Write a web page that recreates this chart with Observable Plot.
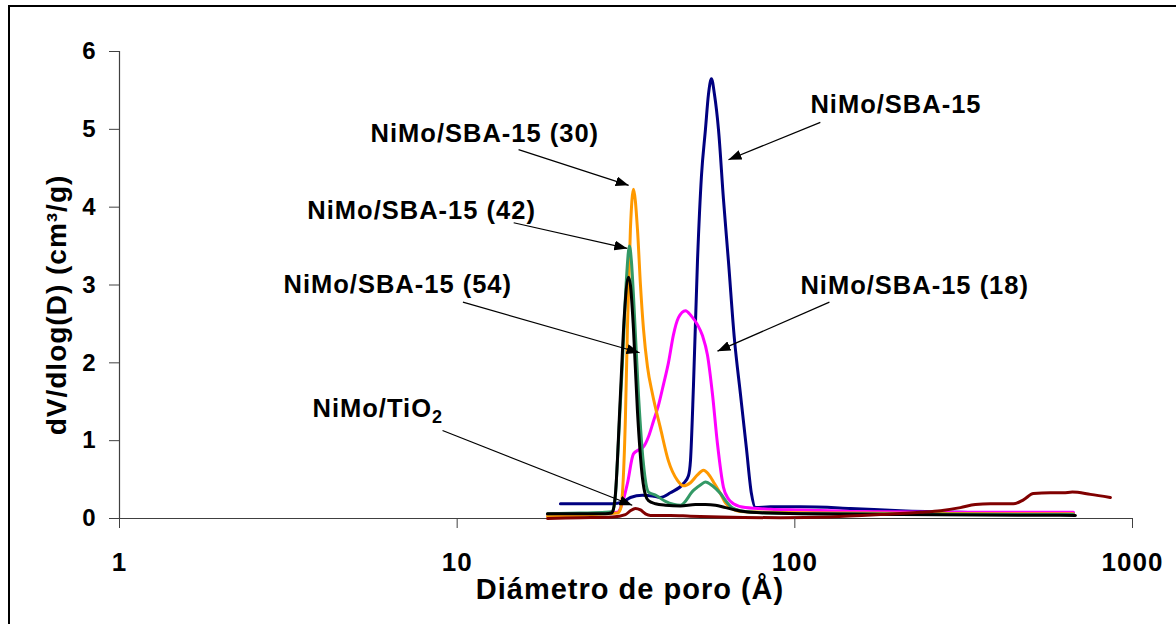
<!DOCTYPE html>
<html><head><meta charset="utf-8">
<script src="https://cdn.jsdelivr.net/npm/d3@7"></script>
<script src="https://cdn.jsdelivr.net/npm/@observablehq/plot@0.6"></script>
<style>
html,body{margin:0;padding:0;background:#fff;overflow:hidden;width:1176px;height:624px}
#wrap{position:relative;width:1176px;height:624px;overflow:hidden}
#chart{position:absolute;left:0;top:0}
#border{position:absolute;left:8px;top:5px;width:1300px;height:1000px;border:2px solid #000;box-sizing:border-box;pointer-events:none}
svg text{letter-spacing:1px}
</style></head><body><div id="wrap"><div id="chart"></div><div id="border"></div></div>
<script>
// ---- axis ticks ----
const xTicks = [1, 10, 100, 1000];
const yTicks = [0, 1, 2, 3, 4, 5, 6];
const xTitle = "Diámetro de poro (Å)";
const yTitle = "dV/dlog(D) (cm³/g)";

// ---- series: NiMo/SBA-15 (navy) ----
const sbaD = [20.22, 24.82, 28.83, 30.86, 32.59, 35.38, 37.88, 40.00, 42.81, 46.79, 48.41, 49.08, 50.09, 51.48, 52.90, 54.36, 55.49, 56.63, 57.80, 59.41, 61.47, 63.60, 66.25, 69.01, 71.89, 74.38, 76.44, 84.70, 103.9, 146.1, 205.5, 309.3, 444.0, 668.3];
const sbaV = [0.19, 0.19, 0.19, 0.21, 0.27, 0.30, 0.29, 0.27, 0.33, 0.45, 0.55, 0.74, 1.7, 3.3, 4.4, 5.0, 5.45, 5.65, 5.45, 5.0, 4.1, 3.3, 2.3, 1.6, 0.9, 0.32, 0.14, 0.15, 0.15, 0.13, 0.10, 0.08, 0.07, 0.07];

// ---- NiMo/SBA-15 (18) (magenta) ----
const s18D = [18.51, 23.18, 27.49, 29.83, 30.86, 31.93, 33.27, 34.42, 35.62, 36.86, 38.13, 39.44, 40.82, 42.23, 43.70, 45.22, 47.43, 49.41, 51.48, 53.26, 55.11, 57.02, 59.00, 61.47, 63.60, 65.80, 71.40, 84.70, 103.9, 146.1, 288.9, 668.3];
const s18V = [0.05, 0.06, 0.07, 0.08, 0.2, 0.45, 0.83, 0.88, 0.92, 1.05, 1.25, 1.45, 1.72, 2.0, 2.36, 2.58, 2.67, 2.6, 2.49, 2.35, 2.1, 1.6, 0.96, 0.4, 0.25, 0.19, 0.14, 0.12, 0.11, 0.09, 0.08, 0.08];

// ---- NiMo/SBA-15 (30) (orange) ----
const s30D = [18.51, 23.18, 27.49, 29.83, 30.45, 30.86, 31.50, 31.93, 32.59, 33.27, 34.19, 34.90, 35.62, 36.61, 37.88, 40.00, 42.23, 44.91, 46.79, 49.08, 51.48, 53.63, 55.49, 57.80, 60.22, 62.31, 64.47, 69.01, 84.70, 146.1, 406.3, 668.3];
const s30V = [0.03, 0.04, 0.06, 0.07, 0.12, 0.32, 1.3, 2.44, 3.72, 4.23, 3.72, 3.0, 2.44, 1.95, 1.6, 1.16, 0.74, 0.49, 0.42, 0.46, 0.56, 0.62, 0.57, 0.45, 0.32, 0.2, 0.14, 0.09, 0.08, 0.07, 0.06, 0.06];

// ---- NiMo/SBA-15 (42) (green) ----
const s42D = [18.51, 23.18, 27.49, 28.83, 29.43, 29.83, 30.86, 31.71, 32.37, 32.82, 33.27, 34.42, 35.62, 36.86, 38.66, 41.39, 45.84, 50.09, 52.90, 54.36, 57.02, 60.22, 63.16, 65.80, 71.40, 84.70, 146.1, 668.3];
const s42V = [0.06, 0.07, 0.08, 0.09, 0.3, 0.74, 2.0, 3.07, 3.5, 3.3, 2.87, 1.6, 0.7, 0.34, 0.3, 0.22, 0.17, 0.36, 0.44, 0.47, 0.42, 0.32, 0.2, 0.13, 0.09, 0.07, 0.06, 0.05];

// ---- NiMo/SBA-15 (54) (black) ----
const s54D = [18.51, 23.18, 27.49, 28.64, 29.03, 29.43, 30.45, 31.31, 32.15, 32.59, 33.27, 34.19, 35.38, 36.11, 36.86, 38.66, 41.39, 45.84, 50.78, 54.36, 58.20, 62.31, 66.70, 73.88, 103.9, 205.5, 677.5];
const s54V = [0.06, 0.06, 0.06, 0.07, 0.12, 0.32, 1.6, 2.65, 3.1, 3.0, 2.44, 1.38, 0.52, 0.3, 0.23, 0.19, 0.17, 0.16, 0.18, 0.18, 0.17, 0.14, 0.11, 0.08, 0.06, 0.05, 0.04];

// ---- NiMo/TiO2 (dark red) ----
const tioD = [18.51, 23.18, 28.83, 31.50, 32.59, 33.72, 34.90, 36.11, 37.36, 40.00, 42.81, 49.08, 60.22, 90.66, 127.5, 179.3, 235.4, 269.9, 309.3, 342.5, 379.5, 444.0, 475.3, 508.8, 571.3, 624.2, 663.7, 750.6, 860.0];
const tioV = [0.0, 0.01, 0.02, 0.05, 0.1, 0.13, 0.11, 0.06, 0.04, 0.04, 0.04, 0.03, 0.02, 0.01, 0.02, 0.05, 0.08, 0.1, 0.14, 0.18, 0.19, 0.19, 0.24, 0.32, 0.33, 0.33, 0.34, 0.31, 0.27];

// ---- annotations ----
const labelText = ["NiMo/SBA-15", "NiMo/SBA-15 (30)", "NiMo/SBA-15 (42)", "NiMo/SBA-15 (54)", "NiMo/SBA-15 (18)", "NiMo/TiO2"];
const labelD = [111.2, 5.54, 3.60, 3.06, 103.9, 3.73];
const labelV = [5.31, 4.94, 3.95, 3.0, 2.99, 1.41];
const arrowD1 = [119, 15.2, 14.7, 10.4, 126.6, 9.05];
const arrowV1 = [5.09, 4.74, 3.80, 2.78, 2.78, 1.13];
const arrowD2 = [63.6, 32.2, 31.9, 34.7, 59.0, 33.0];
const arrowV2 = [4.61, 4.28, 3.47, 2.13, 2.15, 0.17];

const series = [
  {D: sbaD, V: sbaV, color: "#000080"},
  {D: s18D, V: s18V, color: "#FF00FF"},
  {D: s30D, V: s30V, color: "#FF9900"},
  {D: s42D, V: s42V, color: "#339966"},
  {D: s54D, V: s54V, color: "#000000"},
  {D: tioD, V: tioV, color: "#800000"}
];
const rows = s => s.D.map((d, i) => ({d, v: s.V[i]}));
const labels = labelText.map((t, i) => ({t, d: labelD[i], v: labelV[i]}));
const arrows = arrowD1.map((d, i) => ({x1: d, y1: arrowV1[i], x2: arrowD2[i], y2: arrowV2[i]}));

const axisColor = "#404040";
const svg = Plot.plot({
  width: 1176,
  height: 624,
  marginLeft: 119,
  marginRight: 44,
  marginTop: 51,
  marginBottom: 106,
  style: {fontFamily: "'Liberation Sans', Arial, Helvetica, sans-serif", fontWeight: "bold", color: "#000", background: "transparent", overflow: "visible"},
  x: {type: "log", domain: [1, 1000]},
  y: {domain: [0, 6]},
  marks: [
    Plot.ruleY([0], {stroke: axisColor, strokeWidth: 1.2}),
    Plot.ruleX([1], {stroke: axisColor, strokeWidth: 1.2}),
    ...series.map(s => Plot.line(rows(s), {x: "d", y: "v", stroke: s.color, strokeWidth: 3, curve: "monotone-x", strokeLinejoin: "round"})),
    Plot.link(arrows, {x1: "x1", y1: "y1", x2: "x2", y2: "y2", stroke: "#000", strokeWidth: 1.2}),
    Plot.text(labels, {x: "d", y: "v", text: "t", textAnchor: "start", fontSize: 25.5, fill: "#000"}),
    Plot.axisY({ticks: yTicks, tickFormat: d => String(d), tickSize: 10, tickPadding: 13, fontSize: 24, label: null, stroke: axisColor, fill: "#000"}),
    Plot.axisX({ticks: xTicks, tickFormat: d => String(d), tickSize: 10, tickPadding: 24, fontSize: 26, label: null, stroke: axisColor, fill: "#000"}),
    Plot.text([xTitle], {frameAnchor: "bottom", dy: 80, dx: 4, textAnchor: "middle", fontSize: 29, fill: "#000"}),
    Plot.text([yTitle], {frameAnchor: "left", dx: -62, dy: 20, rotate: -90, textAnchor: "middle", fontSize: 28, fill: "#000"})
  ]
});

const s = d3.select(svg);
const defs = s.append("defs");
defs.append("marker").attr("id", "ah").attr("viewBox", "0 0 13 10").attr("refX", 13).attr("refY", 5)
  .attr("markerWidth", 13).attr("markerHeight", 10).attr("markerUnits", "userSpaceOnUse").attr("orient", "auto")
  .append("path").attr("d", "M0,0L13,5L0,10Z").attr("fill", "#000");
s.selectAll('g[aria-label="link"] path').attr("marker-end", "url(#ah)");
s.selectAll("text").filter(function () { return this.textContent === "NiMo/TiO2"; }).each(function () {
  const t = d3.select(this);
  t.text("NiMo/TiO");
  t.append("tspan").attr("font-size", 18).attr("dy", 6).text("2");
});
document.getElementById("chart").appendChild(svg);
</script></body></html>
